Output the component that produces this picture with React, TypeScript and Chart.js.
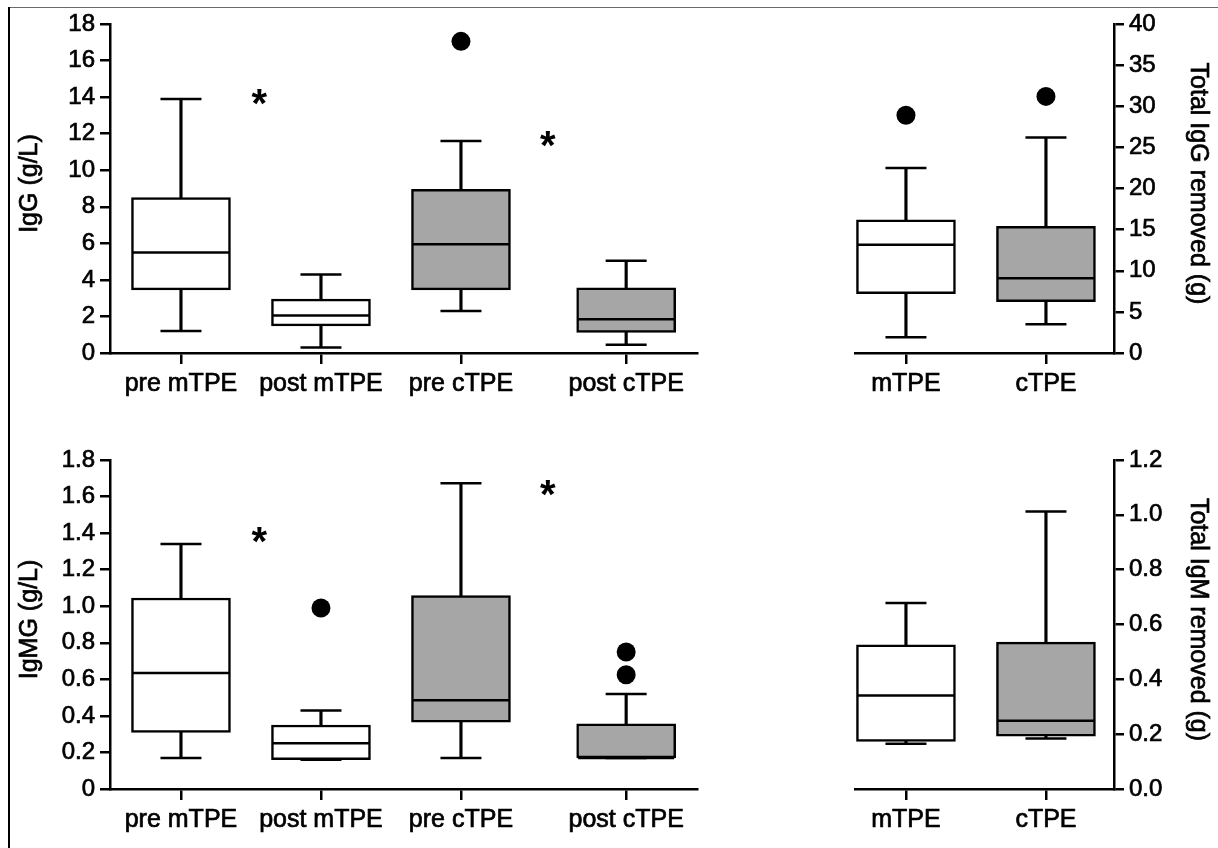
import React, { useEffect, useRef } from 'react';
import { Chart, registerables } from 'chart.js';

Chart.register(...registerables);

const W = 1218;
const H = 848;
const FONT = '"Liberation Sans", Arial, Helvetica, sans-serif';
Chart.defaults.font.family = FONT;

// ---------- Top-left: IgG (g/L) ----------
const iggGroups = ['pre mTPE', 'post mTPE', 'pre cTPE', 'post cTPE'];
const iggMin = [1.2, 0.3, 2.3, 0.45];
const iggQ1 = [3.45, 1.48, 3.45, 1.13];
const iggMedian = [5.5, 2.05, 5.95, 1.84];
const iggQ3 = [8.5, 2.95, 8.95, 3.57];
const iggMax = [13.9, 4.3, 11.6, 5.05];
const iggOutlierGroup = [2];
const iggOutlierValue = [17.05];
const iggStarX = [0.56, 2.62];
const iggStarValue = [14.0, 11.7];

// ---------- Top-right: Total IgG removed (g) ----------
const totIggGroups = ['mTPE', 'cTPE'];
const totIggMin = [1.9, 3.5];
const totIggQ1 = [7.2, 6.25];
const totIggMedian = [13.15, 9.1];
const totIggQ3 = [16.2, 15.4];
const totIggMax = [22.5, 26.2];
const totIggOutlierGroup = [0, 1];
const totIggOutlierValue = [28.9, 31.2];

// ---------- Bottom-left: IgMG (g/L) ----------
const igmGroups = ['pre mTPE', 'post mTPE', 'pre cTPE', 'post cTPE'];
const igmMin = [0.17, 0.16, 0.17, 0.17];
const igmQ1 = [0.31, 0.16, 0.365, 0.17];
const igmMedian = [0.635, 0.25, 0.485, 0.17];
const igmQ3 = [1.045, 0.35, 1.058, 0.357];
const igmMax = [1.34, 0.43, 1.673, 0.52];
const igmOutlierGroup = [1, 3, 3];
const igmOutlierValue = [0.99, 0.625, 0.75];
const igmStarX = [0.56, 2.62];
const igmStarValue = [1.39, 1.647];

// ---------- Bottom-right: Total IgM removed (g) ----------
const totIgmGroups = ['mTPE', 'cTPE'];
const totIgmMin = [0.165, 0.184];
const totIgmQ1 = [0.174, 0.193];
const totIgmMedian = [0.341, 0.249];
const totIgmQ3 = [0.526, 0.536];
const totIgmMax = [0.678, 1.012];

// category positions on the x scale
const leftGroupPos = [0, 1, 2, 3.18];
const rightGroupPos = [0, 1];

const WHITE = '#ffffff';
const GRAY = '#a6a6a6';
const LW = 2.5;
const TEXT_STROKE = 0.7;

type PanelDef = {
  labels: string[];
  pos: number[];
  min: number[];
  q1: number[];
  med: number[];
  q3: number[];
  max: number[];
  outG: number[];
  outV: number[];
  starX: number[];
  starY: number[];
  fills: string[];
  yMax: number;
  yStep: number;
  yTitle: string;
  yPos: 'left' | 'right';
  fmt: (v: number) => string;
  area: { left: number; right: number; top: number; bottom: number };
  xMin: number;
  xMax: number;
};

const Y_AXIS_W = 100;
const X_AXIS_H = 55;

const panels: PanelDef[] = [
  {
    labels: iggGroups, pos: leftGroupPos,
    min: iggMin, q1: iggQ1, med: iggMedian, q3: iggQ3, max: iggMax,
    outG: iggOutlierGroup, outV: iggOutlierValue,
    starX: iggStarX, starY: iggStarValue,
    fills: [WHITE, WHITE, GRAY, GRAY],
    yMax: 18, yStep: 2, yTitle: 'IgG (g/L)', yPos: 'left',
    fmt: (v) => String(Math.round(v)),
    area: { left: 110, right: 697, top: 24, bottom: 353 },
    xMin: -0.507, xMax: 3.686,
  },
  {
    labels: totIggGroups, pos: rightGroupPos,
    min: totIggMin, q1: totIggQ1, med: totIggMedian, q3: totIggQ3, max: totIggMax,
    outG: totIggOutlierGroup, outV: totIggOutlierValue,
    starX: [], starY: [],
    fills: [WHITE, GRAY],
    yMax: 40, yStep: 5, yTitle: 'Total IgG removed (g)', yPos: 'right',
    fmt: (v) => String(Math.round(v)),
    area: { left: 855, right: 1114, top: 24, bottom: 353 },
    xMin: -0.364, xMax: 1.486,
  },
  {
    labels: igmGroups, pos: leftGroupPos,
    min: igmMin, q1: igmQ1, med: igmMedian, q3: igmQ3, max: igmMax,
    outG: igmOutlierGroup, outV: igmOutlierValue,
    starX: igmStarX, starY: igmStarValue,
    fills: [WHITE, WHITE, GRAY, GRAY],
    yMax: 1.8, yStep: 0.2, yTitle: 'IgMG (g/L)', yPos: 'left',
    fmt: (v) => (Math.abs(v) < 1e-9 ? '0' : v.toFixed(1)),
    area: { left: 110, right: 697, top: 460, bottom: 789 },
    xMin: -0.507, xMax: 3.686,
  },
  {
    labels: totIgmGroups, pos: rightGroupPos,
    min: totIgmMin, q1: totIgmQ1, med: totIgmMedian, q3: totIgmQ3, max: totIgmMax,
    outG: [], outV: [],
    starX: [], starY: [],
    fills: [WHITE, GRAY],
    yMax: 1.2, yStep: 0.2, yTitle: 'Total IgM removed (g)', yPos: 'right',
    fmt: (v) => v.toFixed(1),
    area: { left: 855, right: 1114, top: 460, bottom: 789 },
    xMin: -0.364, xMax: 1.486,
  },
];

function buildConfig(p: PanelDef): any {
  const pt = (vals: number[]) => vals.map((v, i) => ({ x: p.pos[i], y: v }));
  const range = (a: number[], b: number[]) => p.labels.map((_, i) => ({ x: p.pos[i], y: [a[i], b[i]] }));

  const datasets: any[] = [
    {
      type: 'bar', data: range(p.q3, p.max), backgroundColor: '#000', borderWidth: 0,
      barThickness: LW, grouped: false, order: 6,
    },
    {
      type: 'bar', data: range(p.min, p.q1), backgroundColor: '#000', borderWidth: 0,
      barThickness: LW, grouped: false, order: 6,
    },
    {
      type: 'bar', data: range(p.q1, p.q3), backgroundColor: p.fills, borderColor: '#000',
      borderWidth: LW, borderSkipped: false, barThickness: 99, grouped: false, order: 5,
    },
    {
      type: 'scatter', data: [...pt(p.min), ...pt(p.max)], pointStyle: 'line', pointRadius: 20.5,
      pointBorderColor: '#000', pointBorderWidth: LW, pointBackgroundColor: '#000', order: 1,
    },
    {
      type: 'scatter', data: pt(p.med), pointStyle: 'line', pointRadius: 48,
      pointBorderColor: '#000', pointBorderWidth: LW, pointBackgroundColor: '#000', order: 0,
    },
    {
      type: 'scatter', data: p.outG.map((g, i) => ({ x: p.pos[g], y: p.outV[i] })),
      pointStyle: 'circle', pointRadius: 9.5, pointBackgroundColor: '#000',
      pointBorderWidth: 0, order: 0,
    },
  ];

  const isLeft = p.yPos === 'left';
  const padding = {
    left: isLeft ? p.area.left - Y_AXIS_W : p.area.left,
    right: isLeft ? W - p.area.right : W - p.area.right - Y_AXIS_W,
    top: p.area.top,
    bottom: H - p.area.bottom - X_AXIS_H,
  };

  const starPlugin = {
    id: 'stars',
    afterDatasetsDraw(chart: any) {
      const { ctx, scales } = chart;
      const xs = scales.x;
      const ys = scales.y;
      ctx.save();
      ctx.font = `bold 40px ${FONT}`;
      ctx.fillStyle = '#000';
      ctx.textAlign = 'center';
      ctx.textBaseline = 'alphabetic';
      const m = ctx.measureText('*');
      const off = (m.actualBoundingBoxAscent - m.actualBoundingBoxDescent) / 2;
      p.starX.forEach((sx, i) => {
        ctx.fillText('*', xs.getPixelForValue(sx), ys.getPixelForValue(p.starY[i]) + off);
      });
      ctx.restore();
    },
  };

  const axisTitlePlugin = {
    id: 'axisTitle',
    afterDraw(chart: any) {
      const { ctx } = chart;
      const s = chart.scales.y;
      ctx.save();
      ctx.font = `25px ${FONT}`;
      ctx.fillStyle = '#000';
      ctx.strokeStyle = '#000';
      ctx.lineWidth = TEXT_STROKE;
      ctx.textAlign = 'center';
      ctx.textBaseline = 'middle';
      const cy = (s.top + s.bottom) / 2 - 5;
      const cx = isLeft ? s.left + 20 : s.right - 16;
      ctx.translate(cx, cy);
      ctx.rotate(isLeft ? -Math.PI / 2 : Math.PI / 2);
      ctx.fillText(p.yTitle, 0, 0);
      ctx.strokeText(p.yTitle, 0, 0);
      ctx.restore();
    },
  };

  return {
    type: 'bar',
    data: { datasets },
    plugins: [starPlugin, axisTitlePlugin],
    options: {
      responsive: false,
      animation: false,
      devicePixelRatio: 1,
      events: [],
      layout: { padding, autoPadding: false },
      plugins: { legend: { display: false }, tooltip: { enabled: false }, title: { display: false } },
      scales: {
        x: {
          type: 'linear',
          min: p.xMin,
          max: p.xMax,
          offset: false,
          afterBuildTicks: (s: any) => {
            s.ticks = p.pos.map((v) => ({ value: v }));
          },
          afterFit: (s: any) => {
            s.height = X_AXIS_H;
          },
          ticks: {
            autoSkip: false,
            maxRotation: 0,
            padding: 5,
            color: '#000',
            textStrokeColor: '#000',
            textStrokeWidth: TEXT_STROKE,
            font: { size: 25, family: FONT },
            callback: (_v: any, i: number) => p.labels[i],
          },
          grid: {
            display: true, offset: false, drawOnChartArea: false, drawTicks: true,
            tickLength: 11, color: '#000', lineWidth: LW,
          },
          border: { display: true, color: '#000', width: LW },
        },
        y: {
          type: 'linear',
          position: p.yPos,
          min: 0,
          max: p.yMax,
          afterFit: (s: any) => {
            s.width = Y_AXIS_W;
          },
          ticks: {
            stepSize: p.yStep,
            padding: 5,
            color: '#000',
            textStrokeColor: '#000',
            textStrokeWidth: TEXT_STROKE,
            font: { size: 24, family: FONT },
            callback: (v: any) => p.fmt(Number(v)),
          },
          grid: {
            display: true, drawOnChartArea: false, drawTicks: true,
            tickLength: 10, color: '#000', lineWidth: LW,
          },
          border: { display: true, color: '#000', width: LW },
          title: { display: false },
        },
      },
    },
  };
}

function PanelChart({ p }: { p: PanelDef }) {
  const ref = useRef<HTMLCanvasElement>(null);
  useEffect(() => {
    if (!ref.current) return;
    const chart = new Chart(ref.current, buildConfig(p));
    return () => chart.destroy();
  }, [p]);
  return (
    <canvas
      ref={ref}
      width={W}
      height={H}
      style={{ position: 'absolute', left: 0, top: 0, width: W, height: H }}
    />
  );
}

export default function App() {
  return (
    <div
      style={{
        position: 'absolute', left: 0, top: 0, width: W, height: H,
        background: '#fff', overflow: 'hidden',
      }}
    >
      <div style={{ position: 'absolute', left: 8, top: 7, width: W - 8, height: 0, borderTop: '1px solid #6a6a6a' }} />
      <div style={{ position: 'absolute', left: 8, top: 7, width: 0, height: H - 7, borderLeft: '2px solid #000' }} />
      {panels.map((p, i) => (
        <PanelChart key={i} p={p} />
      ))}
    </div>
  );
}
